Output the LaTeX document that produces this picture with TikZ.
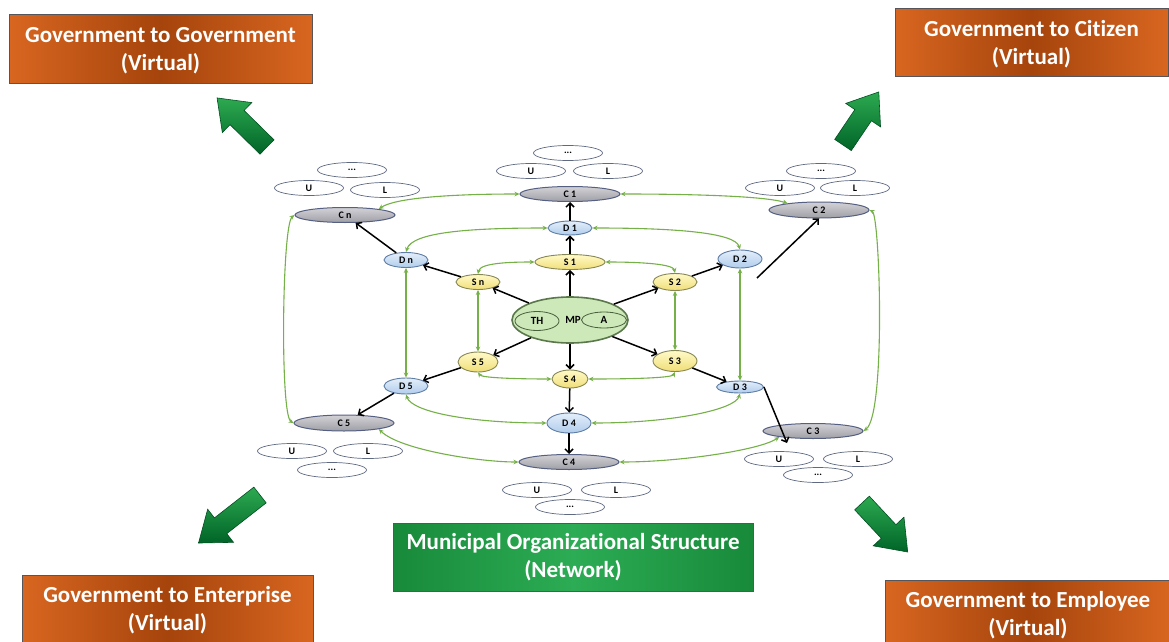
\documentclass[tikz,border=0pt]{standalone}
\usepackage{fontspec}
\setmainfont[Ligatures=NoCommon]{Carlito}
\usetikzlibrary{arrows.meta,shapes.geometric}

\definecolor{ringGreen}{RGB}{118,176,72}
\definecolor{orEdge}{RGB}{216,102,32}
\definecolor{orMid}{RGB}{165,68,12}
\definecolor{boxLine}{RGB}{85,85,90}
\definecolor{netEdge}{RGB}{24,138,58}
\definecolor{netMid}{RGB}{44,172,84}
\definecolor{arrDark}{RGB}{0,100,40}
\definecolor{arrLight}{RGB}{45,170,80}
\definecolor{cTop}{RGB}{210,210,214}
\definecolor{cBot}{RGB}{158,158,166}
\definecolor{cLine}{RGB}{85,95,130}
\definecolor{dTop}{RGB}{228,238,250}
\definecolor{dBot}{RGB}{176,205,236}
\definecolor{dLine}{RGB}{95,125,165}
\definecolor{sTop}{RGB}{255,250,200}
\definecolor{sBot}{RGB}{240,222,120}
\definecolor{sLine}{RGB}{135,135,85}
\definecolor{mpFill}{RGB}{205,232,185}
\definecolor{mpLine}{RGB}{90,120,75}
\definecolor{tagLine}{RGB}{95,105,130}

\newcommand\tinyfont{\bfseries\fontsize{10}{10}\selectfont}

% thick block arrow: tail centre (x,y), direction angle, length
\newcommand\blockarrow[4]{%
  \begin{scope}[shift={(#1,#2)}, rotate=#3]
    \path[draw=arrDark!80!black, line width=0.6pt, top color=arrLight, bottom color=arrDark]
      (0,-10) -- (#4-28,-10) -- (#4-28,-21) -- (#4,0) -- (#4-28,21) -- (#4-28,10) -- (0,10) -- cycle;
  \end{scope}}

\tikzset{
  ring/.style={draw=ringGreen, line width=1.1pt,
    {Stealth[length=5pt,width=4.5pt]}-{Stealth[length=5pt,width=4.5pt]}},
  link/.style={draw=black, line width=1.5pt, -{Straight Barb[length=4pt,width=8pt]}},
  cnode/.style={ellipse, draw=cLine, line width=1pt, top color=cTop, bottom color=cBot,
    minimum width=100pt, minimum height=15pt, inner sep=0pt, font=\tinyfont},
  dnode/.style={ellipse, draw=dLine, line width=0.9pt, top color=dTop, bottom color=dBot,
    minimum width=44pt, minimum height=15pt, inner sep=0pt, font=\tinyfont},
  snode/.style={ellipse, draw=sLine, line width=0.9pt, top color=sTop, bottom color=sBot,
    minimum width=44pt, minimum height=17pt, inner sep=0pt, font=\tinyfont},
  tag/.style={ellipse, draw=tagLine, line width=0.7pt, fill=white,
    minimum width=69pt, minimum height=15pt, inner sep=0pt, font=\tinyfont},
  vbox/.style={rectangle, draw=boxLine, line width=1pt,
    left color=orEdge, right color=orEdge, middle color=orMid,
    text=white, align=center, inner sep=0pt,
    font=\bfseries\fontsize{23}{28}\selectfont},
  netbox/.style={vbox, left color=netEdge, right color=netEdge, middle color=netMid},
}

\begin{document}
\begin{tikzpicture}[x=1pt, y=-1pt]
\clip (0,0) rectangle (1169,642);
\fill[white] (0,0) rectangle (1169,642);

% corner boxes
\node[vbox, minimum width=303pt, minimum height=68pt, text depth=0pt] (g2g) at (160.5,49) {Government to Government\\(Virtual)};
\node[vbox, minimum width=273pt, minimum height=67pt, text depth=0pt] (g2c) at (1031.5,42.5) {Government to Citizen\\(Virtual)};
\node[vbox, minimum width=291pt, minimum height=70pt] (g2e) at (167.5,610) {Government to Enterprise\\(Virtual)};
\node[vbox, minimum width=286pt, minimum height=70pt] (g2m) at (1028,615) {Government to Employee\\(Virtual)};
\node[netbox, minimum width=360pt, minimum height=68pt] (net) at (573,557) {Municipal Organizational Structure\\(Network)};

% block arrows
\blockarrow{267}{147}{135.5}{70}
\blockarrow{843}{145}{56}{64}
\blockarrow{260}{495}{218}{78}
\blockarrow{862}{503}{-47}{67}

% centre
\node[ellipse, draw=mpLine, line width=1.6pt, fill=mpFill, minimum width=116pt, minimum height=46pt] (MP) at (570,320) {};
\node[ellipse, draw=mpLine!80!black, line width=0.8pt, minimum width=44pt, minimum height=19pt, inner sep=0pt, font=\bfseries\fontsize{11}{11}\selectfont] (TH) at (537,321) {TH};
\node[ellipse, draw=mpLine!80!black, line width=0.8pt, minimum width=45pt, minimum height=16pt, inner sep=0pt, font=\bfseries\fontsize{11}{11}\selectfont] (A) at (604,320) {A};
\node[font=\bfseries\fontsize{11}{11}\selectfont, inner sep=0pt] (MPl) at (573,320) {MP};

% S ring
\node[snode, minimum width=70pt, minimum height=15pt] (S1) at (570,262) {S 1};
\node[snode] (S2) at (675,282) {S 2};
\node[snode, minimum height=21pt] (S3) at (675,361) {S 3};
\node[snode, minimum width=36pt, minimum height=18pt] (S4) at (570,379) {S 4};
\node[snode, minimum width=40pt, minimum height=20pt] (S5) at (478,362) {S 5};
\node[snode, minimum height=15pt] (Sn) at (478,282) {S n};

% D ring
\node[dnode, minimum height=14pt] (D1) at (570,228) {D 1};
\node[dnode, minimum height=18pt] (D2) at (740,259) {D 2};
\node[dnode, minimum width=47pt, minimum height=12pt] (D3) at (740,387) {D 3};
\node[dnode, minimum height=20pt] (D4) at (569,423) {D 4};
\node[dnode, minimum height=16pt] (D5) at (406,386) {D 5};
\node[dnode] (Dn) at (406,260) {D n};

% C ring
\node[cnode] (C1) at (570,194) {C 1};
\node[cnode, minimum height=16pt] (C2) at (819,210) {C 2};
\node[cnode] (C3) at (813,431) {C 3};
\node[cnode] (C4) at (569,462) {C 4};
\node[cnode, minimum height=16pt] (C5) at (344,423) {C 5};
\node[cnode] (Cn) at (345,215) {C n};

% U / L / ... tags
\node[tag] (CnE) at (352,170) {...};
\node[tag] (CnU) at (309,188) {U};
\node[tag] (CnL) at (385,190) {L};
\node[tag] (C1E) at (568,153) {...};
\node[tag] (C1U) at (531,171) {U};
\node[tag] (C1L) at (608,171) {L};
\node[tag] (C2E) at (821,171) {...};
\node[tag] (C2U) at (780,188) {U};
\node[tag] (C2L) at (855,188) {L};
\node[tag] (C5U) at (292,451) {U};
\node[tag] (C5L) at (368,451) {L};
\node[tag] (C5E) at (332,470) {...};
\node[tag] (C4U) at (537,490) {U};
\node[tag] (C4L) at (616,490) {L};
\node[tag] (C4E) at (570,507) {...};
\node[tag] (C3U) at (779,459) {U};
\node[tag] (C3L) at (858,459) {L};
\node[tag] (C3E) at (818,475) {...};

% green ring links
\draw[ring] (S1.west) .. controls (510,262) and (480,263) .. (Sn.north);
\draw[ring] (S1.east) .. controls (630,262) and (673,263) .. (S2.north);
\draw[ring] (Sn.south) -- (S5.north);
\draw[ring] (S2.south) -- (S3.north);
\draw[ring] (S5.south) .. controls (482,378) and (520,379) .. (S4.west);
\draw[ring] (S4.east) .. controls (630,379) and (672,378) .. (S3.south);

\draw[ring] (D1.west) .. controls (470,228) and (412,232) .. (Dn.north);
\draw[ring] (D1.east) .. controls (670,228) and (735,232) .. (D2.north);
\draw[ring] (Dn.south) -- (D5.north);
\draw[ring] (D2.south) -- (D3.north);
\draw[ring] (D5.south) .. controls (412,412) and (470,423) .. (D4.west);
\draw[ring] (D4.east) .. controls (670,423) and (735,410) .. (D3.south);

\draw[ring] (C1.west) .. controls (450,194) and (395,198) .. (Cn.10);
\draw[ring] (C1.east) .. controls (690,194) and (765,196) .. (C2.168);
\draw[ring] (Cn.west) .. controls (282,225) and (280,415) .. (C5.west);
\draw[ring] (C2.east) .. controls (880,215) and (886,415) .. (C3.east);
\draw[ring] (C5.-10) .. controls (400,450) and (480,462) .. (C4.west);
\draw[ring] (C4.east) .. controls (680,462) and (760,450) .. (C3.-170);

% black hierarchy links
\draw[link] (MP) -- (S1);
\draw[link] (MP) -- (S2);
\draw[link] (MP) -- (S3);
\draw[link] (MP) -- (S4);
\draw[link] (MP) -- (S5);
\draw[link] (MP) -- (Sn);
\draw[link] (S1) -- (D1);
\draw[link] (D1) -- (C1);
\draw[link] (Sn) -- (Dn);
\draw[link] (Dn) -- (Cn);
\draw[link] (S2) -- (D2);
\coordinate (d2out) at (757,278);
\draw[link] (d2out) -- (C2.south);
\draw[link] (S3) -- (D3);
\coordinate (c3in) at (787,443);
\draw[link] (D3.east) -- (c3in);
\draw[link] (S4) -- (D4);
\draw[link] (D4) -- (C4);
\draw[link] (S5) -- (D5);
\draw[link] (D5) -- (C5);
\end{tikzpicture}
\end{document}
